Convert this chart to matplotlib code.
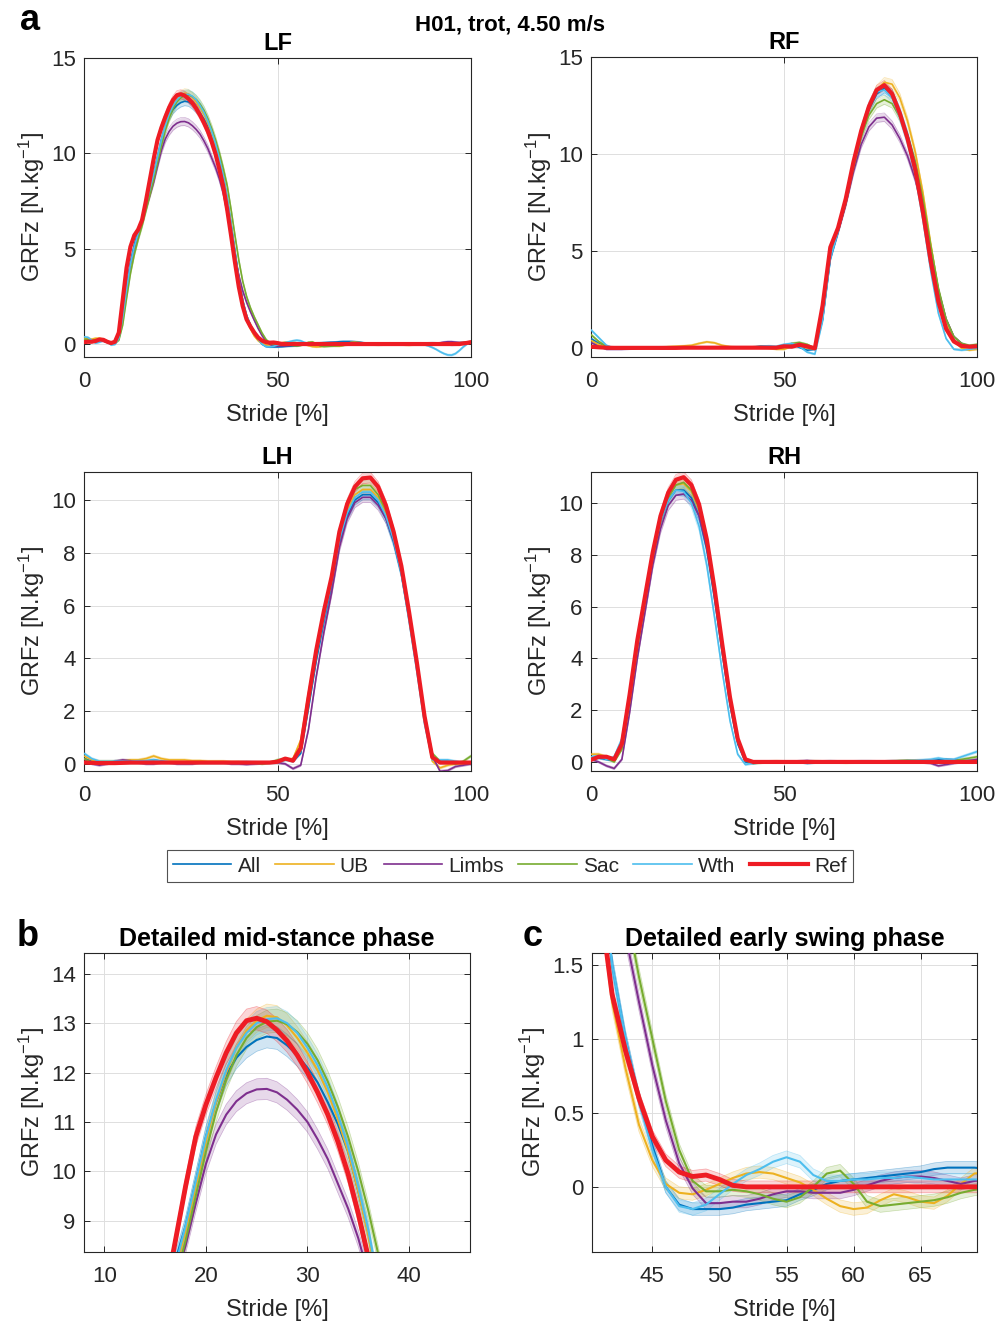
import numpy as np
import matplotlib
matplotlib.use("Agg")
import matplotlib.pyplot as plt
from matplotlib.lines import Line2D
from matplotlib.ticker import FuncFormatter

plt.rcParams['font.family'] = ['Liberation Sans', 'DejaVu Sans']
plt.rcParams['mathtext.fontset'] = 'custom'
plt.rcParams['mathtext.rm'] = 'Liberation Sans'
plt.rcParams['mathtext.it'] = 'Liberation Sans:italic'
plt.rcParams['mathtext.bf'] = 'Liberation Sans:bold'

# series names and colours (MATLAB default order, Ref in red)
SERIES = ['All', 'UB', 'Limbs', 'Sac', 'Wth', 'Ref']
COLORS = {'All': '#0072BD', 'UB': '#EDB120', 'Limbs': '#7E2F8E',
          'Sac': '#77AC30', 'Wth': '#4DBEEE', 'Ref': '#EE1C24'}

# stride samples: LF every 1 % (it is also used in the zoomed panels b and c),
# the other limbs every 2 %
STRIDE_FINE = list(range(0, 101))
STRIDE_COARSE = list(range(0, 101, 2))

# band half-width = relative part * |GRFz| + floor (N/kg)
BAND_REL = 0.015
BAND_MIN = 0.04

# ---------------- LF (1 % steps) ----------------
LF_REF = [0.10, 0.12, 0.12, 0.16, 0.24, 0.22, 0.12, 0.05, 0.12, 0.60,
          2.30, 4.00, 5.10, 5.70, 6.00, 6.50, 7.50, 8.60, 9.70, 10.70,
          11.35, 11.90, 12.40, 12.80, 13.05, 13.10, 13.03, 12.86, 12.64, 12.35,
          12.00, 11.60, 11.15, 10.60, 9.95, 9.15, 8.25, 7.05, 5.70, 4.30,
          3.00, 2.00, 1.30, 0.92, 0.60, 0.34, 0.18, 0.10, 0.07, 0.08,
          0.05, 0.01, 0.00, 0.00, 0.00, 0.00, 0.00, 0.00, 0.00, 0.00,
          0.00, 0.00, 0.00, 0.00, 0.00, 0.00, 0.00, 0.00, 0.00, 0.00,
          0.00, 0.00, 0.00, 0.00, 0.00, 0.00, 0.00, 0.00, 0.00, 0.00,
          0.00, 0.00, 0.00, 0.00, 0.00, 0.00, 0.00, 0.00, 0.00, 0.00,
          0.00, 0.00, 0.00, 0.00, 0.00, 0.00, 0.00, 0.00, 0.03, 0.06,
          0.10]
LF_ALL = [0.20, 0.25, 0.20, 0.15, 0.20, 0.18, 0.10, 0.00, 0.05, 0.30,
          1.50, 3.00, 4.30, 5.20, 5.90, 6.60, 7.40, 8.20, 8.90, 9.80,
          10.70, 11.40, 11.95, 12.30, 12.52, 12.66, 12.73, 12.70, 12.55, 12.35,
          12.10, 11.80, 11.40, 10.95, 10.40, 9.60, 8.75, 7.60, 6.30, 4.90,
          3.50, 2.30, 1.50, 1.00, 0.60, 0.28, 0.00, -0.12, -0.15, -0.15,
          -0.15, -0.14, -0.12, -0.11, -0.10, -0.09, -0.05, -0.02, 0.02, 0.04,
          0.05, 0.06, 0.07, 0.08, 0.09, 0.10, 0.12, 0.13, 0.13, 0.13,
          0.12, 0.10, 0.07, 0.04, 0.02, 0.00, -0.02, -0.03, -0.02, 0.00,
          0.02, 0.03, 0.02, 0.00, -0.02, -0.03, -0.02, 0.00, 0.03, 0.05,
          0.06, 0.05, 0.03, 0.00, -0.03, -0.05, -0.04, 0.00, 0.05, 0.08,
          0.10]
LF_UB = [0.30, 0.30, 0.25, 0.30, 0.30, 0.25, 0.15, 0.05, 0.10, 0.30,
         1.30, 2.80, 4.10, 5.00, 5.70, 6.40, 7.20, 8.00, 8.80, 9.70,
         10.60, 11.40, 12.00, 12.50, 12.85, 13.05, 13.15, 13.12, 12.95, 12.70,
         12.40, 12.05, 11.60, 11.05, 10.40, 9.60, 8.70, 7.60, 6.20, 4.70,
         3.20, 2.00, 1.25, 0.80, 0.42, 0.18, 0.02, -0.04, -0.05, -0.02,
         0.02, 0.06, 0.09, 0.10, 0.09, 0.06, 0.03, -0.02, -0.08, -0.13,
         -0.15, -0.14, -0.09, -0.05, -0.07, -0.10, -0.11, -0.06, 0.02, 0.09,
         0.10, 0.08, 0.05, 0.02, 0.00, -0.02, -0.03, -0.02, 0.00, 0.02,
         0.02, 0.00, -0.03, -0.05, -0.06, -0.04, -0.02, 0.00, 0.02, 0.03,
         0.03, 0.02, 0.00, 0.00, 0.02, 0.04, 0.05, 0.05, 0.06, 0.08,
         0.10]
LF_LIMBS = [0.15, 0.20, 0.15, 0.10, 0.15, 0.15, 0.10, 0.00, 0.05, 0.30,
            1.40, 2.90, 4.20, 5.00, 5.70, 6.40, 7.10, 7.80, 8.50, 9.35,
            10.15, 10.75, 11.15, 11.42, 11.58, 11.66, 11.67, 11.60, 11.45, 11.25,
            11.00, 10.65, 10.25, 9.75, 9.25, 8.65, 7.90, 6.90, 5.80, 4.60,
            3.60, 2.80, 2.20, 1.70, 1.25, 0.82, 0.45, 0.16, -0.01, -0.11,
            -0.11, -0.10, -0.10, -0.08, -0.05, -0.03, -0.03, -0.04, -0.04, -0.04,
            -0.02, 0.01, 0.04, 0.06, 0.07, 0.07, 0.06, 0.04, 0.02, 0.04,
            0.05, 0.04, 0.02, 0.00, -0.02, -0.03, -0.02, 0.00, 0.02, 0.02,
            0.00, -0.02, -0.03, -0.02, 0.00, 0.02, 0.04, 0.05, 0.04, 0.02,
            0.00, 0.02, 0.06, 0.10, 0.12, 0.12, 0.10, 0.08, 0.08, 0.10,
            0.12]
LF_SAC = [0.25, 0.25, 0.20, 0.20, 0.25, 0.20, 0.10, 0.00, 0.05, 0.20,
          1.00, 2.40, 3.70, 4.70, 5.50, 6.20, 7.00, 7.80, 8.60, 9.50,
          10.40, 11.20, 11.85, 12.35, 12.70, 12.92, 13.03, 13.05, 12.98, 12.82,
          12.58, 12.25, 11.82, 11.30, 10.70, 10.00, 9.20, 8.30, 7.05, 5.70,
          4.40, 3.30, 2.50, 1.90, 1.42, 1.00, 0.58, 0.25, 0.04, -0.03,
          -0.03, -0.02, -0.03, -0.05, -0.08, -0.10, -0.07, 0.00, 0.09, 0.11,
          0.02, -0.10, -0.13, -0.12, -0.11, -0.10, -0.09, -0.07, -0.04, -0.02,
          -0.01, 0.00, 0.01, 0.00, -0.02, -0.04, -0.05, -0.04, -0.02, 0.00,
          0.01, 0.00, -0.01, 0.00, 0.01, 0.02, 0.02, 0.01, 0.00, 0.00,
          0.01, 0.02, 0.03, 0.04, 0.04, 0.05, 0.05, 0.06, 0.07, 0.08,
          0.08]
LF_WTH = [0.38, 0.35, 0.20, 0.05, 0.10, 0.20, 0.15, -0.05, -0.02, 0.30,
          1.40, 2.90, 4.20, 5.10, 5.80, 6.50, 7.30, 8.10, 8.90, 9.80,
          10.70, 11.45, 12.05, 12.50, 12.80, 13.00, 13.08, 13.10, 13.00, 12.80,
          12.50, 12.15, 11.70, 11.15, 10.50, 9.70, 8.80, 7.70, 6.30, 4.80,
          3.40, 2.30, 1.50, 1.00, 0.58, 0.25, 0.00, -0.13, -0.15, -0.12,
          -0.05, 0.02, 0.08, 0.12, 0.17, 0.20, 0.17, 0.08, 0.04, 0.04,
          0.05, 0.05, 0.06, 0.06, 0.07, 0.06, 0.05, 0.05, 0.05, 0.05,
          0.05, 0.04, 0.02, 0.00, -0.02, -0.02, 0.00, 0.02, 0.04, 0.05,
          0.04, 0.02, 0.00, -0.01, 0.00, 0.02, 0.02, 0.00, -0.04, -0.10,
          -0.18, -0.28, -0.40, -0.50, -0.57, -0.58, -0.50, -0.34, -0.15, 0.00,
          0.10]

# ---------------- RF (2 % steps) ----------------
RF_REF = [0.08, 0.05, 0.03, 0.02, 0.02, 0.02, 0.02, 0.02, 0.02, 0.02,
          0.02, 0.02, 0.03, 0.03, 0.03, 0.03, 0.03, 0.03, 0.03, 0.03,
          0.03, 0.03, 0.03, 0.03, 0.03, 0.10, 0.08, 0.18, 0.10, 0.00,
          2.20, 5.20, 6.20, 7.70, 9.60, 11.20, 12.45, 13.30, 13.55, 13.10,
          12.10, 10.80, 9.20, 7.00, 4.50, 2.40, 1.00, 0.35, 0.12, 0.08,
          0.10]
RF_ALL = [0.50, 0.25, 0.05, 0.00, 0.00, 0.00, 0.02, 0.03, 0.03, 0.02,
          0.02, 0.03, 0.05, 0.06, 0.06, 0.05, 0.05, 0.04, 0.03, 0.03,
          0.04, 0.06, 0.10, 0.10, 0.05, 0.15, 0.20, 0.05, -0.10, -0.05,
          1.50, 4.60, 6.00, 7.50, 9.40, 11.00, 12.30, 13.10, 13.40, 13.10,
          12.20, 11.00, 9.50, 7.40, 4.90, 2.70, 1.20, 0.40, 0.10, 0.10,
          0.15]
RF_UB = [0.40, 0.20, 0.05, 0.00, -0.02, -0.02, 0.00, 0.02, 0.03, 0.05,
         0.08, 0.10, 0.12, 0.15, 0.25, 0.33, 0.28, 0.15, 0.08, 0.05,
         0.03, 0.03, 0.02, 0.00, -0.05, -0.05, 0.10, 0.15, 0.00, -0.05,
         1.60, 4.80, 6.10, 7.50, 9.30, 11.00, 12.40, 13.30, 13.70, 13.60,
         12.90, 11.70, 10.10, 8.00, 5.40, 3.00, 1.30, 0.40, 0.00, -0.10,
         -0.05]
RF_LIMBS = [0.30, 0.10, -0.05, -0.05, -0.05, -0.03, 0.00, 0.02, 0.02, 0.00,
            0.00, 0.02, 0.03, 0.03, 0.02, 0.02, 0.03, 0.04, 0.04, 0.03,
            0.02, 0.03, 0.05, 0.05, 0.05, 0.05, 0.15, 0.15, 0.05, -0.05,
            1.50, 4.70, 6.00, 7.40, 9.10, 10.50, 11.40, 11.85, 11.90, 11.50,
            10.80, 9.90, 8.70, 7.10, 5.00, 3.00, 1.50, 0.60, 0.25, 0.10,
            0.05]
RF_SAC = [0.70, 0.35, 0.10, 0.00, 0.00, 0.00, 0.02, 0.03, 0.05, 0.06,
          0.06, 0.05, 0.05, 0.04, 0.04, 0.04, 0.04, 0.04, 0.04, 0.04,
          0.04, 0.06, 0.08, 0.06, 0.03, 0.05, 0.25, 0.30, 0.20, 0.00,
          1.60, 4.80, 6.10, 7.50, 9.30, 10.90, 12.00, 12.60, 12.80, 12.60,
          11.90, 10.90, 9.60, 7.70, 5.30, 3.10, 1.50, 0.60, 0.25, 0.15,
          0.20]
RF_WTH = [0.95, 0.55, 0.15, 0.00, 0.00, 0.02, 0.03, 0.03, 0.02, 0.02,
          0.03, 0.05, 0.05, 0.04, 0.03, 0.03, 0.03, 0.03, 0.04, 0.05,
          0.05, 0.05, 0.08, 0.12, 0.10, 0.20, 0.25, 0.10, -0.20, -0.30,
          1.40, 4.60, 6.00, 7.60, 9.50, 11.20, 12.50, 13.20, 13.30, 12.90,
          11.90, 10.60, 8.90, 6.60, 4.00, 1.80, 0.50, -0.05, -0.10, -0.05,
          0.00]

# ---------------- LH (2 % steps) ----------------
LH_REF = [0.05, 0.04, 0.03, 0.03, 0.03, 0.04, 0.05, 0.05, 0.05, 0.05,
          0.05, 0.05, 0.05, 0.05, 0.05, 0.05, 0.05, 0.05, 0.05, 0.05,
          0.05, 0.05, 0.05, 0.05, 0.05, 0.08, 0.20, 0.12, 0.60, 2.50,
          4.30, 5.80, 7.10, 8.80, 9.85, 10.50, 10.82, 10.85, 10.50, 9.80,
          8.80, 7.50, 5.75, 3.85, 1.80, 0.25, 0.05, 0.05, 0.05, 0.05,
          0.05]
LH_ALL = [0.20, 0.10, 0.05, 0.05, 0.10, 0.10, 0.10, 0.10, 0.10, 0.15,
          0.10, 0.05, 0.05, 0.05, 0.05, 0.05, 0.05, 0.05, 0.05, 0.05,
          0.05, 0.05, 0.05, 0.05, 0.05, 0.08, 0.20, 0.10, 0.40, 2.10,
          3.90, 5.40, 6.80, 8.40, 9.40, 10.00, 10.20, 10.20, 9.90, 9.30,
          8.40, 7.20, 5.50, 3.60, 1.60, 0.20, 0.10, 0.10, 0.05, 0.05,
          0.00]
LH_UB = [0.30, 0.15, 0.10, 0.10, 0.10, 0.12, 0.15, 0.15, 0.20, 0.30,
         0.20, 0.15, 0.15, 0.15, 0.12, 0.12, 0.10, 0.10, 0.10, 0.08,
         0.08, 0.06, 0.05, 0.05, 0.05, 0.10, 0.15, 0.20, 0.90, 2.70,
         4.30, 5.70, 7.00, 8.60, 9.60, 10.20, 10.40, 10.40, 10.10, 9.50,
         8.60, 7.40, 5.70, 3.80, 1.60, 0.10, -0.15, -0.05, 0.00, 0.00,
         0.05]
LH_LIMBS = [0.20, 0.00, -0.05, 0.00, 0.10, 0.15, 0.12, 0.05, 0.00, 0.00,
            0.05, 0.05, 0.00, 0.00, 0.00, 0.05, 0.05, 0.05, 0.05, 0.00,
            0.00, -0.02, 0.00, 0.02, 0.05, 0.05, 0.00, -0.18, -0.05, 1.30,
            3.30, 5.00, 6.50, 8.20, 9.30, 9.90, 10.10, 10.10, 9.80, 9.30,
            8.50, 7.30, 5.60, 3.80, 1.80, 0.30, -0.28, -0.25, -0.10, -0.05,
            0.00]
LH_SAC = [0.20, 0.05, 0.00, 0.05, 0.05, 0.05, 0.05, 0.08, 0.10, 0.10,
          0.08, 0.06, 0.05, 0.05, 0.05, 0.05, 0.05, 0.05, 0.05, 0.05,
          0.05, 0.05, 0.05, 0.00, 0.05, 0.15, 0.20, 0.15, 0.50, 2.30,
          4.10, 5.60, 7.00, 8.70, 9.80, 10.40, 10.55, 10.55, 10.20, 9.60,
          8.70, 7.50, 5.80, 3.90, 1.90, 0.40, 0.10, 0.05, 0.00, 0.10,
          0.30]
LH_WTH = [0.40, 0.20, 0.10, 0.10, 0.10, 0.10, 0.10, 0.12, 0.12, 0.15,
          0.10, 0.08, 0.06, 0.05, 0.05, 0.05, 0.05, 0.05, 0.05, 0.05,
          0.06, 0.08, 0.06, 0.05, 0.05, 0.05, 0.15, 0.10, 0.50, 2.30,
          4.10, 5.50, 6.90, 8.50, 9.50, 10.10, 10.30, 10.30, 10.00, 9.40,
          8.50, 7.20, 5.40, 3.50, 1.50, 0.15, 0.15, 0.15, 0.10, 0.05,
          0.05]

# ---------------- RH (2 % steps) ----------------
RH_REF = [0.08, 0.20, 0.20, 0.10, 0.70, 2.60, 4.70, 6.40, 8.10, 9.50,
          10.40, 10.90, 11.00, 10.70, 9.95, 8.60, 6.70, 4.55, 2.50, 0.90,
          0.10, 0.00, 0.00, 0.00, 0.00, 0.00, 0.00, 0.00, 0.00, 0.00,
          0.00, 0.00, 0.00, 0.00, 0.00, 0.00, 0.00, 0.00, 0.00, 0.00,
          0.00, 0.00, 0.00, 0.00, 0.00, 0.00, 0.00, 0.00, 0.00, 0.00,
          0.00]
RH_ALL = [0.15, 0.15, 0.10, 0.05, 0.60, 2.40, 4.50, 6.30, 8.00, 9.30,
          10.10, 10.50, 10.50, 10.20, 9.50, 8.20, 6.30, 4.20, 2.20, 0.70,
          0.00, -0.05, 0.00, 0.00, 0.00, 0.02, 0.02, 0.00, -0.05, -0.02,
          0.02, 0.03, 0.02, 0.00, 0.00, 0.02, 0.02, 0.00, 0.00, 0.02,
          0.03, 0.03, 0.02, 0.02, 0.05, 0.08, 0.10, 0.08, 0.05, 0.05,
          0.05]
RH_UB = [0.30, 0.30, 0.20, 0.05, 0.50, 2.40, 4.50, 6.30, 8.00, 9.40,
         10.30, 10.70, 10.75, 10.45, 9.75, 8.45, 6.55, 4.40, 2.40, 0.80,
         0.05, 0.00, 0.00, 0.02, 0.03, 0.02, 0.00, -0.02, 0.00, 0.02,
         0.02, 0.00, -0.02, -0.03, -0.02, 0.00, 0.02, 0.02, 0.00, -0.02,
         0.00, 0.03, 0.05, 0.05, 0.03, 0.00, -0.02, 0.00, 0.02, 0.03,
         0.05]
RH_LIMBS = [0.10, 0.00, -0.15, -0.25, 0.10, 1.90, 4.00, 5.80, 7.60, 9.00,
            9.90, 10.30, 10.35, 10.10, 9.50, 8.30, 6.50, 4.40, 2.40, 0.80,
            0.05, 0.00, 0.00, 0.02, 0.02, 0.00, 0.00, 0.03, 0.05, 0.02,
            0.00, 0.00, 0.02, 0.02, 0.00, 0.00, 0.00, 0.00, 0.02, 0.03,
            0.02, 0.00, 0.00, -0.02, -0.05, -0.15, -0.10, -0.05, 0.00, 0.05,
            0.10]
RH_SAC = [0.15, 0.20, 0.15, 0.00, 0.50, 2.30, 4.40, 6.20, 7.90, 9.30,
          10.20, 10.70, 10.80, 10.50, 9.80, 8.50, 6.60, 4.45, 2.40, 0.80,
          0.05, -0.05, -0.03, 0.00, 0.02, 0.02, 0.00, 0.00, 0.02, 0.03,
          0.02, 0.00, 0.00, 0.00, 0.02, 0.02, 0.00, 0.00, 0.02, 0.03,
          0.05, 0.06, 0.05, 0.03, 0.02, 0.00, 0.02, 0.05, 0.10, 0.15,
          0.20]
RH_WTH = [0.20, 0.25, 0.10, 0.20, 0.90, 2.70, 4.70, 6.40, 8.00, 9.30,
          10.10, 10.50, 10.45, 10.00, 9.10, 7.60, 5.60, 3.50, 1.60, 0.30,
          -0.10, -0.05, 0.00, 0.02, 0.02, 0.00, 0.00, 0.02, 0.03, 0.02,
          0.00, 0.00, 0.02, 0.02, 0.02, 0.03, 0.03, 0.02, 0.02, 0.03,
          0.03, 0.05, 0.06, 0.08, 0.10, 0.15, 0.10, 0.10, 0.20, 0.30,
          0.40]

LIMBS = {
    'LF': (STRIDE_FINE, {'All': LF_ALL, 'UB': LF_UB, 'Limbs': LF_LIMBS,
                         'Sac': LF_SAC, 'Wth': LF_WTH, 'Ref': LF_REF}),
    'RF': (STRIDE_COARSE, {'All': RF_ALL, 'UB': RF_UB, 'Limbs': RF_LIMBS,
                           'Sac': RF_SAC, 'Wth': RF_WTH, 'Ref': RF_REF}),
    'LH': (STRIDE_COARSE, {'All': LH_ALL, 'UB': LH_UB, 'Limbs': LH_LIMBS,
                           'Sac': LH_SAC, 'Wth': LH_WTH, 'Ref': LH_REF}),
    'RH': (STRIDE_COARSE, {'All': RH_ALL, 'UB': RH_UB, 'Limbs': RH_LIMBS,
                           'Sac': RH_SAC, 'Wth': RH_WTH, 'Ref': RH_REF}),
}

TXT = '#262626'
TICK_FS = 16
LABEL_FS = 17


def draw_curves(ax, stride, curves, lw=1.2, lw_ref=3.0):
    x = np.asarray(stride, dtype=float)
    # bands first, then the mean lines, Ref on top
    for name in SERIES:
        y = np.asarray(curves[name], dtype=float)
        sd = BAND_REL * np.abs(y) + BAND_MIN
        c = COLORS[name]
        ax.fill_between(x, y - sd, y + sd, color=c, alpha=0.18, lw=0, zorder=2)
        ax.plot(x, y - sd, color=c, lw=0.5, alpha=0.35, zorder=2)
        ax.plot(x, y + sd, color=c, lw=0.5, alpha=0.35, zorder=2)
    for name in SERIES:
        y = np.asarray(curves[name], dtype=float)
        is_ref = name == 'Ref'
        ax.plot(x, y, color=COLORS[name], lw=lw_ref if is_ref else lw,
                zorder=4 if is_ref else 3, solid_capstyle='round')


def style_axes(ax, xlim, ylim, xticks, yticks):
    ax.set_xlim(xlim)
    ax.set_ylim(ylim)
    ax.set_xticks(xticks)
    ax.set_yticks(yticks)
    ax.yaxis.set_major_formatter(FuncFormatter(lambda v, p: f'{v:g}'))
    ax.grid(True, color='#dedede', lw=0.7)
    ax.set_axisbelow(True)
    ax.tick_params(direction='in', top=True, right=True, length=4, width=0.7,
                   colors=TXT, labelsize=TICK_FS)
    ax.tick_params(axis='x', pad=10)
    ax.tick_params(axis='y', pad=6)
    for s in ax.spines.values():
        s.set_color(TXT)
        s.set_linewidth(0.8)
    ax.set_xlabel('Stride [%]', fontsize=LABEL_FS, color=TXT, labelpad=9)
    ax.set_ylabel(r'GRFz [N.kg$^{-1}$]', fontsize=LABEL_FS, color=TXT, labelpad=3)


W, H = 1000, 1323
fig = plt.figure(figsize=(W / 100, H / 100), dpi=100)


def px_axes(left, top, right, bottom):
    return fig.add_axes([left / W, 1 - bottom / H, (right - left) / W, (bottom - top) / H])


panels = {
    'LF': (px_axes(84, 58, 471, 357), (-0.68, 15), [0, 5, 10, 15]),
    'RF': (px_axes(591, 57, 977, 357), (-0.45, 15), [0, 5, 10, 15]),
    'LH': (px_axes(84, 472, 471, 771), (-0.27, 11.06), [0, 2, 4, 6, 8, 10]),
    'RH': (px_axes(591, 472, 977, 771), (-0.35, 11.2), [0, 2, 4, 6, 8, 10]),
}
for limb, (ax, ylim, yticks) in panels.items():
    stride, curves = LIMBS[limb]
    draw_curves(ax, stride, curves)
    style_axes(ax, (0, 100), ylim, [0, 50, 100], yticks)
    ax.set_title(limb, fontsize=17, fontweight='bold', pad=6)

# b: mid-stance detail of LF
ax_b = px_axes(84, 953, 470, 1252)
draw_curves(ax_b, STRIDE_FINE, LIMBS['LF'][1], lw=1.5, lw_ref=3.5)
style_axes(ax_b, (8.0, 46.0), (8.37, 14.42), [10, 20, 30, 40], [9, 10, 11, 12, 13, 14])
ax_b.set_title('Detailed mid-stance phase', fontsize=18, fontweight='bold', pad=5)

# c: early swing detail of LF
ax_c = px_axes(592, 953, 977, 1252)
draw_curves(ax_c, STRIDE_FINE, LIMBS['LF'][1], lw=1.5, lw_ref=3.5)
style_axes(ax_c, (40.5, 69.2), (-0.44, 1.58), [45, 50, 55, 60, 65], [0, 0.5, 1, 1.5])
ax_c.set_title('Detailed early swing phase', fontsize=18, fontweight='bold', pad=5)

# legend
handles = [Line2D([], [], color=COLORS[n], lw=3.0 if n == 'Ref' else 1.2) for n in SERIES]
leg = fig.legend(handles, SERIES, loc='center', bbox_to_anchor=(510 / W, 1 - 866 / H),
                 ncol=6, fontsize=15, frameon=True, fancybox=False, edgecolor=TXT,
                 handlelength=2.8, handletextpad=0.3, columnspacing=0.7,
                 borderpad=0.3, borderaxespad=0)
leg.get_frame().set_linewidth(0.8)
for t in leg.get_texts():
    t.set_color(TXT)

fig.text(510 / W, 1 - 25 / H, 'H01, trot, 4.50 m/s', ha='center', va='center',
         fontsize=16, fontweight='bold')
fig.text(30 / W, 1 - 20 / H, 'a', ha='center', va='center', fontsize=26, fontweight='bold')
fig.text(28 / W, 1 - 937 / H, 'b', ha='center', va='center', fontsize=26, fontweight='bold')
fig.text(533 / W, 1 - 937 / H, 'c', ha='center', va='center', fontsize=26, fontweight='bold')

fig.savefig('out.png', dpi=100)
